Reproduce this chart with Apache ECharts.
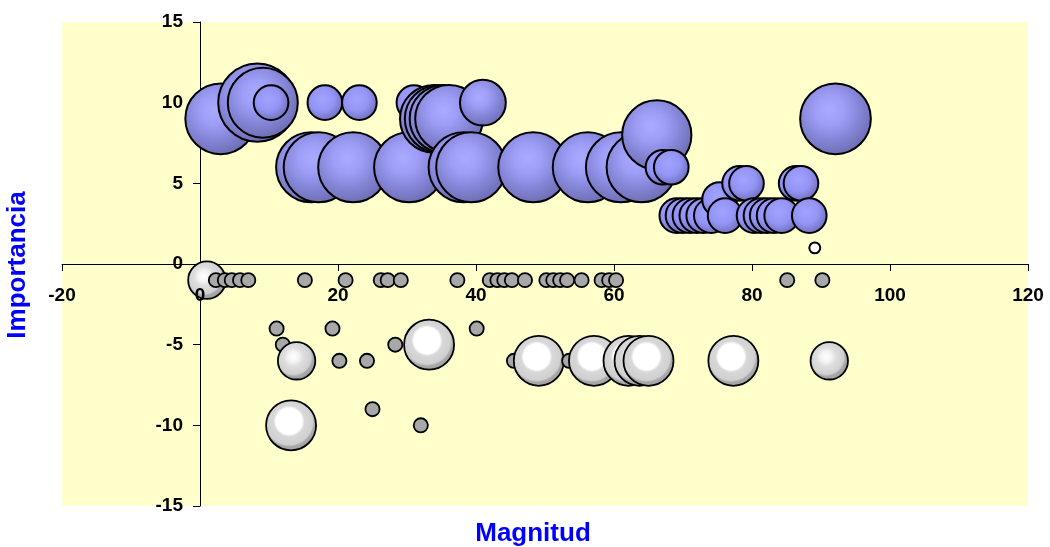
<!DOCTYPE html>
<html>
<head>
<meta charset="utf-8">
<script src="https://cdn.jsdelivr.net/npm/echarts@6/dist/echarts.min.js"></script>
<style>
html,body{margin:0;padding:0;background:#fff;}
#c{width:1050px;height:547px;}
</style>
</head>
<body>
<div id="c"></div>
<script>
// Positive importance (blue bubbles): magnitude, importance, bubble size
const posX    = [3, 8.3, 9.1, 10.3, 16.1, 17.2, 18.1, 22.2, 23.1, 30.3, 31, 33.9, 34.6, 35.3, 36.1, 38.2, 39.3, 41, 48.3, 56.2, 61, 64, 66.2, 67.1, 68.3, 69.1, 70, 71, 72, 73, 74.1, 75.3, 76.1, 78.2, 79.2, 80.3, 81.3, 82.2, 83.2, 84.3, 86.4, 87.1, 88.3, 89.1, 92.1];
const posY    = [9, 10, 10, 10, 6, 6, 10, 6, 10, 6, 10, 9, 9, 9, 9, 6, 6, 10, 6, 6, 6, 6, 8, 6, 6, 3, 3, 3, 3, 3, 3, 4, 3, 5, 5, 3, 3, 3, 3, 3, 5, 5, 3, 1, 9];
const posSize = [50, 61, 49, 12, 49, 49, 12, 49, 12, 49, 12, 46, 46, 46, 46, 49, 49, 21, 49, 49, 49, 49, 48, 12, 12, 12, 12, 12, 12, 12, 12, 12, 12, 12, 12, 12, 12, 12, 12, 12, 12, 12, 12, -1.2, 50];

// Negative importance (grey bubbles)
const negX    = [1, 2.3, 3.6, 4.6, 5.8, 7, 11.1, 12, 13.2, 14, 15.2, 19.2, 20.2, 21.1, 24.2, 25, 26.2, 27.2, 28.3, 29.1, 32, 33.2, 37.3, 40.1, 42, 43.1, 44.1, 45.2, 45.5, 47.1, 49.1, 50.2, 51.2, 52.2, 53.2, 53.5, 55.3, 57.1, 58.2, 59.3, 60.3, 62.1, 63.7, 65, 77.3, 85.1, 90.2, 91.2];
const negY    = [-1, -1, -1, -1, -1, -1, -4, -5, -10, -6, -1, -4, -6, -1, -6, -9, -1, -1, -5, -1, -10, -5, -1, -4, -1, -1, -1, -1, -6, -1, -6, -1, -1, -1, -1, -6, -1, -6, -1, -1, -1, -6, -6, -6, -6, -1, -1, -6];
const negSize = [14, 2, 2, 2, 2, 2, 2, 2, 25, 14, 2, 2, 2, 2, 2, 2, 2, 2, 2, 2, 2, 25, 2, 2, 2, 2, 2, 2, 2, 2, 25, 2, 2, 2, 2, 2, 2, 25, 2, 2, 2, 25, 25, 25, 25, 2, 2, 14];

const xTicks = {min: -20, max: 120, interval: 20};
const yTicks = {min: -15, max: 15, interval: 5};

const posData = posX.map((x, i) => [x, posY[i], posSize[i]]);
const negData = negX.map((x, i) => [x, negY[i], negSize[i]]);

const bubbleSize = d => Math.sqrt(Math.abs(d[2])) * 10;

function blueColor(p) {
  const s = p.data[2];
  if (s < 0) return '#ffffff';
  if (s < 20) {
    return new echarts.graphic.RadialGradient(0.42, 0.4, 0.6, [
      {offset: 0, color: '#a2a2ff'},
      {offset: 0.55, color: '#9494f6'},
      {offset: 1, color: '#7070bc'}
    ]);
  }
  return new echarts.graphic.RadialGradient(0.42, 0.38, 0.66, [
    {offset: 0, color: '#aaaaff'},
    {offset: 0.3, color: '#9e9ef8'},
    {offset: 0.6, color: '#8787da'},
    {offset: 1, color: '#6a6aae'}
  ]);
}

function greyColor(p) {
  const s = p.data[2];
  if (s < 5) return '#a8a8a8';
  if (s < 20) {
    return new echarts.graphic.RadialGradient(0.42, 0.4, 0.62, [
      {offset: 0, color: '#ffffff'},
      {offset: 0.22, color: '#f4f4f4'},
      {offset: 0.4, color: '#dedede'},
      {offset: 0.72, color: '#d0d0d0'},
      {offset: 0.8, color: '#a8a8a8'},
      {offset: 1, color: '#a0a0a0'}
    ]);
  }
  return new echarts.graphic.RadialGradient(0.46, 0.42, 0.6, [
    {offset: 0, color: '#ffffff'},
    {offset: 0.42, color: '#ffffff'},
    {offset: 0.5, color: '#d8d8d8'},
    {offset: 0.76, color: '#d0d0d0'},
    {offset: 0.82, color: '#a8a8a8'},
    {offset: 1, color: '#a0a0a0'}
  ]);
}

const labelFont = {fontFamily: 'Liberation Sans, Arial, sans-serif', fontWeight: 'bold', fontSize: 19, color: '#000'};

const chart = echarts.init(document.getElementById('c'), null, {renderer: 'canvas'});
const option = {
  animation: false,
  backgroundColor: '#ffffff',
  grid: {left: 62, right: 22, top: 22, bottom: 41, show: true, backgroundColor: '#ffffcc', borderWidth: 0, containLabel: false},
  xAxis: [
    {
      // axis line and ticks (beneath the bubbles)
      type: 'value', min: xTicks.min, max: xTicks.max, interval: xTicks.interval,
      position: 'bottom', offset: 0, z: 0,
      axisLine: {show: true, onZero: false, lineStyle: {color: '#000', width: 1}},
      axisTick: {show: true, inside: false, length: 7, lineStyle: {color: '#000'}},
      axisLabel: {show: false},
      splitLine: {show: false}
    },
    {
      // tick labels (drawn above the bubbles)
      type: 'value', min: xTicks.min, max: xTicks.max, interval: xTicks.interval,
      position: 'bottom', offset: 0, z: 20,
      axisLine: {show: false, onZero: false},
      axisTick: {show: false},
      axisLabel: Object.assign({margin: 22, showMinLabel: true, showMaxLabel: true, hideOverlap: false}, labelFont),
      splitLine: {show: false}
    }
  ],
  yAxis: {
    type: 'value', min: yTicks.min, max: yTicks.max, interval: yTicks.interval,
    position: 'left', offset: 0, z: 0,
    axisLine: {show: true, onZero: false, lineStyle: {color: '#000', width: 1}},
    axisTick: {show: true, inside: false, length: 7, lineStyle: {color: '#000'}},
    axisLabel: Object.assign({margin: 17, showMinLabel: true, showMaxLabel: true, hideOverlap: false}, labelFont),
    splitLine: {show: false}
  },
  graphic: [
    {type: 'text', x: 533, y: 534, style: {text: 'Magnitud', fill: '#0000ff', font: 'bold 26px "Liberation Sans", Arial, sans-serif', textAlign: 'center', textVerticalAlign: 'middle'}},
    {type: 'text', x: 18, y: 265, rotation: Math.PI / 2, style: {text: 'Importancia', fill: '#0000ff', font: 'bold 26px "Liberation Sans", Arial, sans-serif', textAlign: 'center', textVerticalAlign: 'middle'}}
  ],
  series: [
    {
      name: 'Positivos', type: 'scatter', data: posData, symbol: 'circle', xAxisIndex: 0,
      symbolSize: bubbleSize, clip: false,
      itemStyle: {color: blueColor, borderColor: '#000', borderWidth: 2, opacity: 1},
      emphasis: {disabled: true}
    },
    {
      name: 'Negativos', type: 'scatter', data: negData, symbol: 'circle', xAxisIndex: 0,
      symbolSize: bubbleSize, clip: false,
      itemStyle: {color: greyColor, borderColor: '#000', borderWidth: 1.8, opacity: 1},
      emphasis: {disabled: true}
    }
  ]
};
chart.setOption(option);

// Move the axes (line, ticks, labels) so they cross at zero, as in the original
const origin = chart.convertToPixel({gridIndex: 0}, [0, 0]);
const gridRect = chart.getModel().getComponent('grid').coordinateSystem.getRect();
const xOff = -(gridRect.y + gridRect.height - origin[1]);
chart.setOption({
  xAxis: [{offset: xOff}, {offset: xOff}],
  yAxis: {offset: -(origin[0] - gridRect.x)}
});
</script>
</body>
</html>
